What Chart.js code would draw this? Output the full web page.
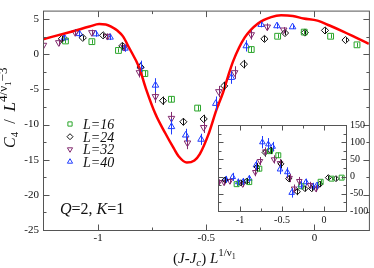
<!DOCTYPE html>
<html>
<head>
<meta charset="utf-8">
<script src="https://cdn.jsdelivr.net/npm/chart.js@4.4.0/dist/chart.umd.min.js"></script>
<style>
  html, body { margin: 0; padding: 0; background: #fff; }
  #wrap { position: relative; width: 374px; height: 268px; overflow: hidden; }
  #main { position: absolute; left: 0; top: 0; }
  #inset { position: absolute; left: 200px; top: 115px; }
</style>
</head>
<body>
<div id="wrap">
  <canvas id="main" width="374" height="268"></canvas>
  <canvas id="inset" width="174" height="115"></canvas>
</div>
<script>
// main panel: C4 scaled, fit curve
const curveX = [-1.255, -1.12, -1.04, -0.995, -0.965, -0.94, -0.91, -0.885, -0.858, -0.81, -0.78, -0.735, -0.69, -0.65, -0.628, -0.59, -0.555, -0.53, -0.49, -0.452, -0.422, -0.399, -0.376, -0.322, -0.261, -0.2, -0.154, -0.1, -0.05, 0.014, 0.07, 0.136, 0.19, 0.252]
const curveY = [2.15, 3.25, 3.95, 4.3, 4.25, 3.95, 3.35, 2.55, 1.0, -1.9, -4.8, -8.5, -11.2, -13.4, -14.5, -15.4, -15.1, -14.2, -11.4, -7.8, -5.4, -3.1, -1.0, 2.4, 4.4, 5.3, 5.55, 5.45, 5.1, 4.8, 4.1, 3.2, 2.4, 1.5]

const l16X = [-1.151, -1.029, -0.906, -0.784, -0.661, -0.54, -0.292, -0.17, -0.047, 0.075, 0.197]
const l16Y = [1.9, 1.8, 0.55, -2.74, -6.4, -7.65, 0.68, 2.57, 3.16, 2.57, 1.35]
const l16Err = [0.3, 0.3, 0.3, 0.4, 0.4, 0.4, 0.4, 0.3, 0.3, 0.3, 0.3]

const l24X = [-1.168, -1.071, -0.977, -0.888, -0.804, -0.7, -0.606, -0.512, -0.417, -0.326, -0.231, -0.136, -0.044, 0.049, 0.144]
const l24Y = [2.2, 2.35, 2.7, 1.2, -1.84, -6.6, -9.6, -9.2, -4.5, -1.4, 2.2, 3.03, 3.1, 3.4, 2.03]
const l24Err = [0.4, 0.3, 0.3, 0.4, 0.5, 0.6, 0.5, 0.6, 0.6, 0.6, 0.4, 0.3, 0.3, 0.4, 0.3]

const l32X = [-1.253, -1.182, -1.106, -1.029, -0.957, -0.88, -0.809, -0.735, -0.661, -0.587, -0.512, -0.442, -0.369, -0.292, -0.218, -0.142]
const l32Y = [1.3, 1.67, 3.1, 3.1, 2.57, 1.0, -2.6, -6.0, -9.1, -12.6, -10.4, -5.3, -2.6, 2.8, 3.9, 3.47]
const l32Err = [0.4, 0.5, 0.5, 0.4, 0.4, 0.5, 0.7, 0.9, 0.9, 0.9, 0.8, 0.8, 0.9, 0.7, 0.5, 0.4]

const l40X = [-1.156, -1.087, -1.011, -0.945, -0.876, -0.804, -0.735, -0.661, -0.595, -0.524, -0.456, -0.384, -0.315, -0.246, -0.173, -0.101]
const l40Y = [2.35, 2.93, 2.9, 2.43, 0.86, -1.7, -4.4, -10.3, -11.5, -12.1, -7.0, -3.3, 1.2, 4.24, 4.05, 3.9]
const l40Err = [0.4, 0.5, 0.4, 0.4, 0.5, 0.8, 1.0, 1.1, 0.9, 0.8, 1.0, 0.9, 0.8, 0.4, 0.4, 0.3]

// inset panel
const in16X = [-1.04, -0.89, -0.77, -0.643, -0.544, -0.27, -0.04, 0.091, 0.21]
const in16Y = [-22, -16, 23, 74, 62, -28, -15, -6, -3]
const in16Err = [6, 6, 8, 8, 8, 8, 6, 5, 5]

const in24X = [-1.18, -0.99, -0.92, -0.798, -0.702, -0.635, -0.512, -0.421, -0.317, -0.226, -0.147, -0.048, 0.052, 0.143]
const in24Y = [-10, -18, -13, 28, 70, 76, 37, -6, -44, -35, -35, -22, -3, -6]
const in24Err = [8, 8, 8, 12, 12, 10, 12, 10, 10, 8, 8, 8, 6, 6]

const in32X = [-1.25, -1.19, -1.12, -0.968, -0.818, -0.762, -0.698, -0.595, -0.524, -0.41, -0.357, -0.294, -0.167, -0.095]
const in32Y = [-16, -17, -13, -22, 13, 45, 73, 50, 39, -4, -35, -13, -25, -35]
const in32Err = [8, 8, 8, 8, 12, 12, 12, 12, 12, 12, 12, 12, 10, 10]

const in40X = [-1.167, -1.087, -1.02, -0.96, -0.889, -0.81, -0.734, -0.663, -0.611, -0.524, -0.437, -0.385, -0.278, -0.214, -0.135, -0.087]
const in40Y = [-8, -1, -16, -14, -6, 33, 100, 94, 87, 21, 13, -47, -25, -16, -28, -26]
const in40Err = [10, 12, 10, 10, 10, 14, 18, 18, 14, 14, 14, 14, 12, 10, 10, 10]

const seriesLabels = ['L=16', 'L=24', 'L=32', 'L=40']

// ticks
const mainXLabels = [-1, -0.5, 0]
const mainXMinor = [-0.75, -0.25]
const mainYLabels = [-25, -20, -15, -10, -5, 0, 5]
const mainYMinor = [-22.5, -17.5, -12.5, -7.5, -2.5, 2.5]
const insetXLabels = [-1, -0.5, 0]
const insetXMinor = [-0.75, -0.25]
const insetYLabels = [-100, -50, 0, 50, 100, 150]
const insetYMinor = [-75, -25, 25, 75, 125]

const serif = '"Liberation Serif", "DejaVu Serif", serif'
const it = s => `italic ${s}px ${serif}`
const rm = s => `${s}px ${serif}`
const colors = ['#2aa52a', '#111111', '#822a6e', '#1f3cff']
const styles = [['rect', 0], ['rectRot', 0], ['triangle', 180], ['triangle', 0]]

function series(i, xs, ys, errs, r) {
  return {
    label: seriesLabels[i],
    errs,
    data: xs.map((x, j) => ({ x, y: ys[j] })),
    borderColor: colors[i],
    backgroundColor: 'rgba(255,255,255,0)',
    pointStyle: styles[i][0],
    pointRotation: styles[i][1],
    pointRadius: i === 0 ? r + 0.3 : r,
    pointBorderWidth: 1,
    showLine: false
  }
}

const errorBars = {
  id: 'errorBars',
  afterDatasetsDraw(chart) {
    const { ctx } = chart
    const y = chart.scales.y
    ctx.save()
    ctx.lineWidth = 1
    chart.data.datasets.forEach((ds, i) => {
      if (!ds.errs) return
      ctx.strokeStyle = ds.borderColor
      chart.getDatasetMeta(i).data.forEach((pt, j) => {
        const v = ds.data[j].y
        const x = Math.round(pt.x) + 0.5
        ctx.beginPath()
        ctx.moveTo(x, y.getPixelForValue(v + ds.errs[j]))
        ctx.lineTo(x, y.getPixelForValue(v - ds.errs[j]))
        ctx.stroke()
      })
    })
    ctx.restore()
  }
}

// frame with inward ticks on all four sides
const frame = {
  id: 'frame',
  beforeDraw(chart, args, opts) {
    if (!opts.fill) return
    const a = chart.chartArea
    chart.ctx.save()
    chart.ctx.fillStyle = opts.fill
    chart.ctx.fillRect(a.left, a.top, a.right - a.left, a.bottom - a.top)
    chart.ctx.restore()
  },
  afterDraw(chart, args, opts) {
    const { ctx, chartArea: a } = chart
    const xs = chart.scales.x, ys = chart.scales.y
    const line = (x1, y1, x2, y2) => { ctx.beginPath(); ctx.moveTo(x1, y1); ctx.lineTo(x2, y2); ctx.stroke() }
    ctx.save()
    ctx.strokeStyle = '#555'
    ctx.lineWidth = 1
    const L = a.left + 0.5, R = a.right + 0.5, T = a.top + 0.5, B = a.bottom + 0.5
    ctx.strokeRect(L, T, R - L, B - T)
    const xt = (vals, len) => vals.forEach(v => {
      const p = Math.round(xs.getPixelForValue(v)) + 0.5
      line(p, B, p, B - len); line(p, T, p, T + len)
    })
    const yt = (vals, len) => vals.forEach(v => {
      const p = Math.round(ys.getPixelForValue(v)) + 0.5
      line(L, p, L + len, p); line(R, p, R - len, p)
    })
    xt(opts.xMajor, opts.major); xt(opts.xMinor, opts.minor)
    yt(opts.yMajor, opts.major); yt(opts.yMinor, opts.minor)
    ctx.restore()
  }
}

function drawRich(ctx, parts, x, y) {
  parts.forEach(p => {
    ctx.font = p.f
    ctx.fillText(p.t, x, y + (p.dy || 0))
    x += ctx.measureText(p.t).width
  })
}

const decor = {
  id: 'decor',
  afterDraw(chart) {
    const { ctx } = chart
    ctx.save()
    ctx.fillStyle = '#111'
    ctx.textBaseline = 'alphabetic'
    // axis titles
    drawRich(ctx, [
      { t: '(', f: rm(15) }, { t: 'J-J', f: it(15) }, { t: 'c', f: it(11), dy: 3 },
      { t: ') ', f: rm(15) }, { t: 'L', f: it(15) }, { t: '1/\u03bd', f: rm(11), dy: -7 },
      { t: '1', f: rm(8), dy: -4 }
    ], 173, 263)
    ctx.save()
    ctx.translate(15, 148)
    ctx.rotate(-Math.PI / 2)
    drawRich(ctx, [
      { t: 'C', f: it(16) }, { t: '4', f: rm(11), dy: 3 }, { t: '  /  ', f: rm(16) },
      { t: 'L', f: it(17) }, { t: '4/\u03bd', f: rm(13), dy: -8 }, { t: '1', f: rm(9), dy: -4 },
      { t: '\u22123', f: rm(13), dy: -8 }
    ], 0, 0)
    ctx.restore()
    drawRich(ctx, [
      { t: 'Q', f: it(16) }, { t: '=2, ', f: rm(16) }, { t: 'K', f: it(16) }, { t: '=1', f: rm(16) }
    ], 60, 214)
    // legend
    const ly = [124, 136.7, 149.3, 161.7]
    chart.data.datasets.forEach((ds, i) => {
      if (!ds.errs) return
      const k = seriesLabels.indexOf(ds.label)
      ctx.strokeStyle = ds.borderColor
      ctx.fillStyle = 'rgba(255,255,255,0)'
      ctx.lineWidth = 1
      Chart.helpers.drawPoint(ctx, { pointStyle: ds.pointStyle, rotation: ds.pointRotation, radius: 3, borderWidth: 1 }, 70, ly[k])
      ctx.fillStyle = '#111'
      ctx.font = it(14)
      ctx.fillText(ds.label, 83, ly[k] + 5)
    })
    ctx.restore()
  }
}

function axis(min, max, labels, size, padding, fit) {
  return {
    type: 'linear', min, max,
    afterBuildTicks: s => { s.ticks = labels.map(v => ({ value: v })) },
    afterFit: fit,
    grid: { display: false, drawTicks: false },
    border: { display: false },
    ticks: { padding, autoSkip: false, maxRotation: 0, color: '#111', font: { family: serif, size }, callback: v => String(v) }
  }
}

new Chart(document.getElementById('main'), {
  type: 'scatter',
  data: {
    datasets: [
      {
        label: 'fit',
        data: curveX.map((x, i) => ({ x, y: curveY[i] })),
        showLine: true, borderColor: '#ff0000', borderWidth: 2.5,
        pointRadius: 0, cubicInterpolationMode: 'monotone', fill: false
      },
      series(0, l16X, l16Y, l16Err, 3.8),
      series(1, l24X, l24Y, l24Err, 3.6),
      series(2, l32X, l32Y, l32Err, 3.8),
      series(3, l40X, l40Y, l40Err, 3.8)
    ]
  },
  options: {
    responsive: false, animation: false, events: [],
    layout: { padding: { left: 0, right: 1, top: 0, bottom: 0 } },
    plugins: {
      legend: { display: false }, tooltip: { enabled: false },
      frame: { xMajor: mainXLabels, xMinor: mainXMinor, yMajor: mainYLabels, yMinor: mainYMinor, major: 6, minor: 3 }
    },
    scales: {
      x: axis(-1.255, 0.252, mainXLabels, 11, 2, s => { s.height = 38 }),
      y: axis(-25, 6.22, mainYLabels, 11, 4, s => { s.width = 43 })
    }
  },
  plugins: [errorBars, frame, decor]
})

new Chart(document.getElementById('inset'), {
  type: 'scatter',
  data: {
    datasets: [
      series(0, in16X, in16Y, in16Err, 3.2),
      series(1, in24X, in24Y, in24Err, 3.0),
      series(2, in32X, in32Y, in32Err, 3.2),
      series(3, in40X, in40Y, in40Err, 3.2)
    ]
  },
  options: {
    responsive: false, animation: false, events: [],
    layout: { padding: { left: 18, right: 0, top: 10, bottom: 0 } },
    plugins: {
      legend: { display: false }, tooltip: { enabled: false },
      frame: { fill: '#fff', xMajor: insetXLabels, xMinor: insetXMinor, yMajor: insetYLabels, yMinor: insetYMinor, major: 5, minor: 3 }
    },
    scales: {
      x: axis(-1.262, 0.262, insetXLabels, 10, 3, s => { s.height = 19 }),
      y: Object.assign(axis(-100, 150, insetYLabels, 10, 4, s => { s.width = 28 }), { position: 'right' })
    }
  },
  plugins: [errorBars, frame]
})
</script>
</body>
</html>
